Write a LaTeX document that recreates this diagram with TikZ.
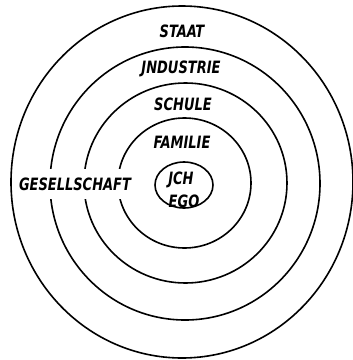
\documentclass[tikz,border=0pt]{standalone}
\usepackage{fontspec}
\newfontfamily\ringfont[FakeStretch=0.85]{DejaVu Sans Condensed}
\usetikzlibrary{positioning}
\tikzset{
  ring/.style={line width=1.6pt},
  ringlabel/.style={font=\ringfont\bfseries\itshape\fontsize{17}{19}\selectfont, inner sep=0pt},
}
\begin{document}
\begin{tikzpicture}[x=1pt,y=-1pt]
  \useasboundingbox (0,0) rectangle (353,360);

  % rings, from the outside in
  \foreach \cx/\cy/\rx/\ry in {182/182/171/176, 185/183.5/135/136.5, 185.5/183/101.5/100, 184.5/183/66.5/65}
    \draw[ring] (\cx,\cy) ellipse [x radius=\rx, y radius=\ry];

  % inner circle
  \draw[ring] (184,185) ellipse [x radius=29, y radius=23];

  % ring labels
  \node[ringlabel] (staat) at (182,31) {STAAT};
  \node[ringlabel] (industrie) at (181,69) {JNDUSTRIE};
  \node[ringlabel] (schule) at (183,104.5) {SCHULE};
  \node[ringlabel] (familie) at (182,142) {FAMILIE};
  \node[ringlabel] (ich) at (181,180) {JCH};
  \node[ringlabel] (ego) at (184,201) {EGO};

  % label cutting across the rings
  \node[ringlabel, fill=white, inner xsep=1pt, inner ysep=9pt] (gesellschaft) at (75,184) {GESELLSCHAFT};
\end{tikzpicture}
\end{document}
